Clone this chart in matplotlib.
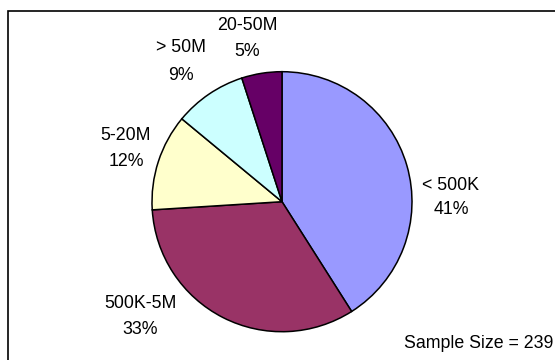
import matplotlib.pyplot as plt
from matplotlib.patches import Rectangle

plt.rcParams["font.family"] = ["Liberation Sans", "DejaVu Sans"]

categories = ["< 500K", "500K-5M", "5-20M", "> 50M", "20-50M"]
shares = [41, 33, 12, 9, 5]
colors = ["#9999FF", "#993366", "#FFFFCC", "#CCFFFF", "#660066"]
sample_note = "Sample Size = 239"

# label anchor points in pixel units (top-left origin): name line, percent line
label_pos = [(451, 186, 210), (140, 304, 330), (126, 136, 162), (181, 48, 75), (247, 26, 52)]

W, H = 555, 360
fig = plt.figure(figsize=(W / 100, H / 100), dpi=100)
ax = fig.add_axes([0, 0, 1, 1])

ax.pie(shares, colors=colors, startangle=90, counterclock=False,
       center=(282, H - 201.7), radius=130,
       wedgeprops=dict(edgecolor="black", linewidth=1.1))
ax.set_xlim(0, W)
ax.set_ylim(0, H)
ax.set_aspect("equal")
ax.axis("off")

fs = 12.8
for name, v, (x, y1, y2) in zip(categories, shares, label_pos):
    ax.text(x, H - y1, name, ha="center", va="center", fontsize=fs)
    ax.text(x, H - y2, f"{v}%", ha="center", va="center", fontsize=fs)

ax.text(404, H - 343, sample_note, ha="left", va="center", fontsize=fs, clip_on=False)

ax.add_patch(Rectangle((7.8, -20), W + 40, H - 10.6 + 20, fill=False,
                       edgecolor="black", linewidth=1.2, clip_on=False))

fig.savefig("out.png", dpi=100)
